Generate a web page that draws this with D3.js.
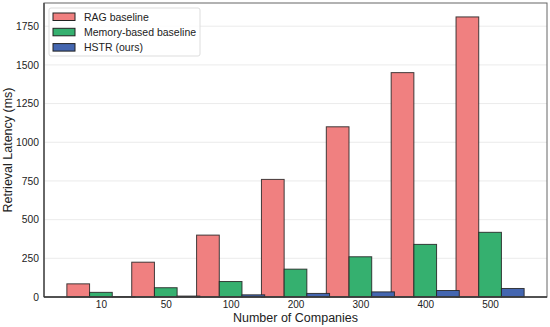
<!DOCTYPE html>
<html>
<head>
<meta charset="utf-8">
<script src="https://cdn.jsdelivr.net/npm/d3@7"></script>
<style>
  body { margin: 0; background: #fff; }
  text { font-family: "Liberation Sans", Arial, sans-serif; fill: #222; }
</style>
</head>
<body>
<div id="chart"></div>
<script>
// data
const companies = ["10", "50", "100", "200", "300", "400", "500"];
const ragLatency = [85, 225, 400, 760, 1100, 1450, 1810];
const memoryLatency = [30, 60, 100, 180, 260, 340, 418];
const hstrLatency = [2, 6, 14, 23, 33, 42, 55];
const seriesNames = ["RAG baseline", "Memory-based baseline", "HSTR (ours)"];
const seriesColors = ["#f08080", "#35b06f", "#4466b0"];
const yTicks = [0, 250, 500, 750, 1000, 1250, 1500, 1750];

const W = 550, H = 327;
const plot = { left: 44, right: 547, top: 3, bottom: 297 };
const barW = 0.35;

const series = [ragLatency, memoryLatency, hstrLatency];

const svg = d3.select("#chart").append("svg")
  .attr("width", W).attr("height", H);

// numeric x like matplotlib: categories at 0..n-1, bars offset by barW
const x = d3.scaleLinear()
  .domain([-0.8775, companies.length - 1 + 0.8775])
  .range([plot.left, plot.right]);

const y = d3.scaleLinear()
  .domain([0, 1900])
  .range([plot.bottom, plot.top]);

// grid
svg.append("g")
  .selectAll("line")
  .data(yTicks)
  .join("line")
  .attr("x1", plot.left).attr("x2", plot.right)
  .attr("y1", d => y(d)).attr("y2", d => y(d))
  .attr("stroke", "#e6e6e6").attr("stroke-width", 0.8);

// bars
series.forEach((vals, s) => {
  const off = (s - 1) * barW;
  svg.append("g")
    .selectAll("rect")
    .data(vals)
    .join("rect")
    .attr("x", (d, i) => x(i + off - barW / 2))
    .attr("width", x(barW) - x(0))
    .attr("y", d => y(d))
    .attr("height", d => y(0) - y(d))
    .attr("fill", seriesColors[s])
    .attr("stroke", "#222")
    .attr("stroke-opacity", 0.85)
    .attr("stroke-width", 1);
});

// frame
svg.append("rect")
  .attr("x", plot.left).attr("y", plot.top)
  .attr("width", plot.right - plot.left)
  .attr("height", plot.bottom - plot.top)
  .attr("fill", "none")
  .attr("stroke", "#666").attr("stroke-width", 1);
svg.append("line")
  .attr("x1", plot.left).attr("x2", plot.left)
  .attr("y1", plot.top).attr("y2", plot.bottom)
  .attr("stroke", "#555").attr("stroke-width", 1.6);
svg.append("line")
  .attr("x1", plot.left).attr("x2", plot.right)
  .attr("y1", plot.bottom).attr("y2", plot.bottom)
  .attr("stroke", "#333").attr("stroke-width", 1.4);

// y axis
const yAxis = d3.axisLeft(y).tickValues(yTicks).tickFormat(d3.format("d"))
  .tickSize(0).tickPadding(5);
const gy = svg.append("g")
  .attr("transform", `translate(${plot.left},0)`)
  .call(yAxis);
gy.select(".domain").remove();
gy.selectAll("text").style("font-size", "10.3px").attr("fill", "#222");

// x axis
const xAxis = d3.axisBottom(x)
  .tickValues(d3.range(companies.length))
  .tickFormat(i => companies[i])
  .tickSize(0).tickPadding(4);
const gx = svg.append("g")
  .attr("transform", `translate(0,${plot.bottom})`)
  .call(xAxis);
gx.select(".domain").remove();
gx.selectAll("text").style("font-size", "10px").attr("fill", "#222");

// axis labels
svg.append("text")
  .attr("x", (plot.left + plot.right) / 2).attr("y", 321.5)
  .attr("text-anchor", "middle")
  .style("font-size", "12.5px")
  .text("Number of Companies");
svg.append("text")
  .attr("transform", `translate(12,${(plot.top + plot.bottom) / 2}) rotate(-90)`)
  .attr("text-anchor", "middle")
  .style("font-size", "12.5px")
  .text("Retrieval Latency (ms)");

// legend
const leg = svg.append("g").attr("transform", "translate(49,8)");
leg.append("rect")
  .attr("width", 151).attr("height", 48)
  .attr("rx", 2)
  .attr("fill", "#fff").attr("fill-opacity", 0.85)
  .attr("stroke", "#ddd");
seriesNames.forEach((name, i) => {
  const row = leg.append("g").attr("transform", `translate(4,${5 + i * 15.3})`);
  row.append("rect")
    .attr("width", 22).attr("height", 7.5)
    .attr("fill", seriesColors[i])
    .attr("stroke", "#222").attr("stroke-width", 1);
  row.append("text")
    .attr("x", 31).attr("y", 7.5)
    .style("font-size", "10.5px")
    .text(name);
});
</script>
</body>
</html>
